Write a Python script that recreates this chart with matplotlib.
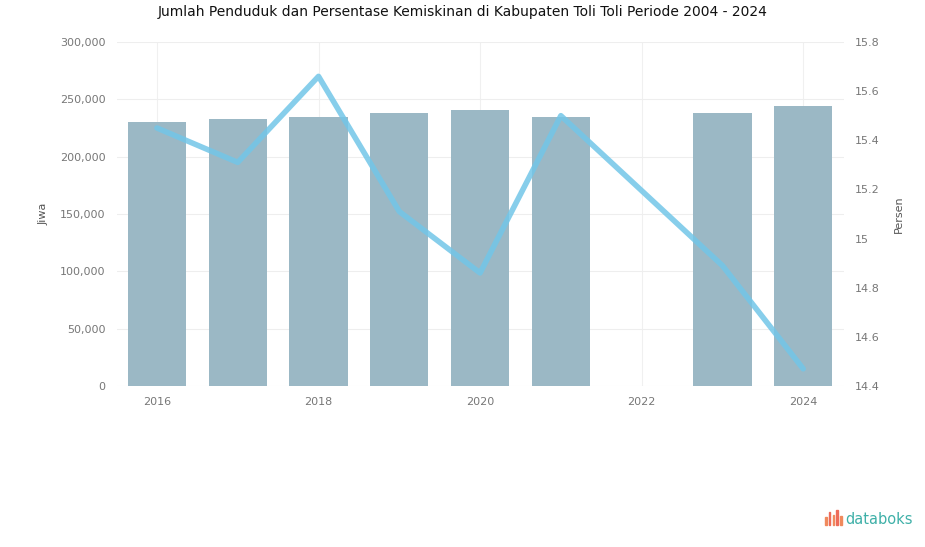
import numpy as np
import matplotlib
matplotlib.use("Agg")
import matplotlib.pyplot as plt
from matplotlib.patches import Rectangle
from matplotlib.ticker import FuncFormatter

# data
years = ["2016", "2017", "2018", "2019", "2020", "2021", "2022", "2023", "2024"]
population = [230200, 232800, 234600, 238100, 240700, 234600, 0, 238100, 244200]
poverty = [15.45, 15.31, 15.66, 15.11, 14.86, 15.50, np.nan, 14.89, 14.47]

left_ticks = [0, 50000, 100000, 150000, 200000, 250000, 300000]
right_ticks = [14.4, 14.6, 14.8, 15.0, 15.2, 15.4, 15.6, 15.8]

bar_color = "#9bb8c5"
line_color = "#72c6e8"
tick_color = "#777777"

fig = plt.figure(figsize=(9.25, 5.47), dpi=100)
ax = fig.add_axes([0.126, 0.2943, 0.786, 0.629])
ax2 = ax.twinx()

x = np.arange(len(years))
ax.bar(x, population, width=0.72, color=bar_color, zorder=2)
ax.set_xlim(-0.5, len(years) - 0.5)
ax.set_ylim(0, 300000)
ax.set_yticks(left_ticks)
ax.yaxis.set_major_formatter(FuncFormatter(lambda v, p: f"{int(v):,}"))
ax.set_xticks(x[::2])
ax.set_xticklabels(years[::2])
ax.grid(axis="y", color="#eeeeee", linewidth=0.8, zorder=0)
ax.grid(axis="x", color="#f0f0f0", linewidth=0.8, zorder=0)
ax.set_ylabel("Jiwa", fontsize=8, color="#555555", labelpad=8)

# poverty line, gap year skipped
mask = ~np.isnan(poverty)
ax2.plot(x[mask], np.array(poverty)[mask], color=line_color, linewidth=4,
         alpha=0.85, solid_joinstyle="round", solid_capstyle="round", zorder=3)
ax2.set_ylim(14.4, 15.8)
ax2.set_yticks(right_ticks)
ax2.yaxis.set_major_formatter(FuncFormatter(lambda v, p: f"{v:g}"))
ax2.set_ylabel("Persen", fontsize=8, color="#555555", labelpad=10)

for a in (ax, ax2):
    for s in a.spines.values():
        s.set_visible(False)
    a.tick_params(length=0, labelsize=8, colors=tick_color, pad=8)

fig.suptitle("Jumlah Penduduk dan Persentase Kemiskinan di Kabupaten Toli Toli Periode 2004 - 2024",
             x=0.5, y=0.99, fontsize=10, color="#111111")

# databoks mark
logo_x = 0.892
heights = [0.014, 0.024, 0.018, 0.028, 0.016]
cols = ["#f08a5d", "#ee6b5a", "#f08a5d", "#ee6b5a", "#f08a5d"]
for i, (h, c) in enumerate(zip(heights, cols)):
    fig.patches.append(Rectangle((logo_x + i * 0.004, 0.040), 0.0018, h,
                                 transform=fig.transFigure, color=c))
fig.text(0.914, 0.05, "databoks", fontsize=10.5, color="#3fb0a8", va="center", ha="left")

fig.savefig("out.png", dpi=100)
